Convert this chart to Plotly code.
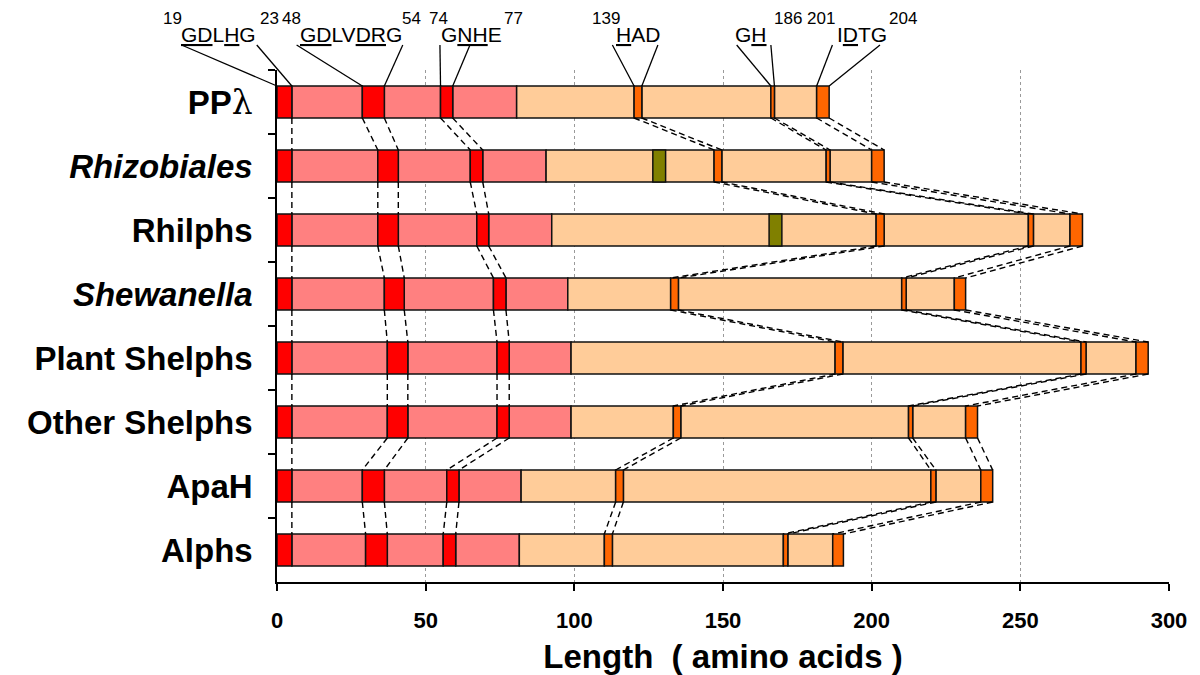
import plotly.graph_objects as go

# ---------------- data ----------------
rows = ["PPλ", "Rhizobiales", "Rhilphs", "Shewanella",
        "Plant Shelphs", "Other Shelphs", "ApaH", "Alphs"]
row_labels = ["<b>PP</b><span style='font-family:DejaVu Serif'>λ</span>",
              "<b><i>Rhizobiales</i></b>", "<b>Rhilphs</b>", "<b><i>Shewanella</i></b>",
              "<b>Plant Shelphs</b>", "<b>Other Shelphs</b>", "<b>ApaH</b>", "<b>Alphs</b>"]

motif1_start = [0, 0, 0, 0, 0, 0, 0, 0]
motif1_end   = [5, 5, 5, 5, 5, 5, 5, 5]
motif2_start = [28.7, 33.9, 33.9, 36.1, 37.1, 37.1, 28.7, 29.8]
motif2_end   = [36.1, 40.8, 40.8, 42.8, 44.0, 44.0, 36.1, 37.1]
motif3_start = [55.0, 65.0, 67.2, 72.8, 74.0, 74.0, 57.1, 55.9]
motif3_end   = [59.1, 69.2, 71.2, 77.0, 78.1, 78.1, 61.2, 60.1]
n_domain_end = [80.6, 90.5, 92.4, 97.8, 98.9, 98.9, 82.1, 81.5]
motif4_start = [120.1, 147.0, 201.5, 132.4, 187.7, 133.3, 113.9, 110.1]
motif4_end   = [122.7, 149.6, 204.2, 135.0, 190.3, 135.8, 116.5, 112.8]
motif5_start = [166.1, 184.7, 252.7, 210.1, 270.4, 212.4, 219.9, 170.3]
motif5_end   = [167.3, 186.0, 254.4, 211.6, 272.1, 213.8, 221.6, 171.8]
motif6_start = [181.5, 200.0, 266.7, 227.8, 288.9, 231.6, 236.7, 186.9]
motif6_end   = [185.7, 204.2, 270.9, 231.6, 293.0, 235.6, 240.7, 190.5]
insert_start = [None, 126.4, 165.5, None, None, None, None, None]
insert_end   = [None, 130.7, 169.8, None, None, None, None, None]

x_ticks = [0, 50, 100, 150, 200, 250, 300]

motif_labels = ["<u>GD</u>L<u>H</u>G", "<u>GD</u>LV<u>DR</u>G", "G<u>NH</u>E",
                "<u>H</u>AD", "G<u>H</u>", "I<u>D</u>TG"]
motif_label_x = [-19.7, 24.9, 65.4, 121.3, 159.4, 196.6]
pos_labels = ["19", "23", "48", "54", "74", "77", "139", "186", "201", "204"]
pos_label_x = [-35.0, -2.6, 5.0, 45.4, 54.2, 79.4, 110.8, 171.7, 182.9, 210.6]
leader_left_x = [-32.1, 6.6, 54.8, 112.8, 154.6, 186.8]
leader_right_x = [-6.8, 42.3, 64.9, 128.1, 166.1, 202.8]

# ---------------- style ----------------
RED, PINK, PEACH, ORANGE, GREEN = "#FF0000", "#FF8080", "#FFCC99", "#FF6600", "#808000"
EDGE = dict(color="#111111", width=1.5)
BAR_W = 0.5
XRANGE = [0, 300]
YRANGE = [len(rows) - 0.5, -0.5]
FONT = "Arial, Liberation Sans, sans-serif"
W, H = 1192, 667
M = dict(l=269, r=31, t=62, b=93)

fig = go.Figure()

def add_segments(starts, ends, color):
    ys, bases, widths = [], [], []
    for i, (s, e) in enumerate(zip(starts, ends)):
        if s is None or e is None:
            continue
        ys.append(row_labels[i]); bases.append(s); widths.append(e - s)
    fig.add_trace(go.Bar(orientation="h", y=ys, x=widths, base=bases, width=BAR_W,
                         marker=dict(color=color, line=EDGE),
                         showlegend=False, hoverinfo="skip"))

add_segments(motif1_end, motif2_start, PINK)
add_segments(motif2_end, motif3_start, PINK)
add_segments(motif3_end, n_domain_end, PINK)
add_segments(n_domain_end, motif4_start, PEACH)
add_segments(motif4_end, motif5_start, PEACH)
add_segments(motif5_end, motif6_start, PEACH)
add_segments(motif1_start, motif1_end, RED)
add_segments(motif2_start, motif2_end, RED)
add_segments(motif3_start, motif3_end, RED)
add_segments(motif4_start, motif4_end, ORANGE)
add_segments(motif5_start, motif5_end, ORANGE)
add_segments(motif6_start, motif6_end, ORANGE)
add_segments(insert_start, insert_end, GREEN)

# dashed connectors between consecutive rows
boundaries = [motif1_end, motif2_start, motif2_end, motif3_start, motif3_end,
              motif4_start, motif4_end, motif5_start, motif5_end, motif6_start, motif6_end]
for b in boundaries:
    for i in range(len(rows) - 1):
        fig.add_shape(type="line", xref="x", yref="y",
                      x0=b[i], y0=i + BAR_W / 2, x1=b[i + 1], y1=i + 1 - BAR_W / 2,
                      line=dict(color="black", width=1.4, dash="6px,4px"), layer="above")

# leader lines from top labels to the first row
def xpaper(v):
    return (v - XRANGE[0]) / (XRANGE[1] - XRANGE[0])

def ypaper(v):
    return (YRANGE[0] - v) / (YRANGE[0] - YRANGE[1])

plot_h = H - M["t"] - M["b"]
label_top_y = 1 + 25 / plot_h
bar_top_y = ypaper(0 - BAR_W / 2)
first_starts = [motif1_start[0], motif2_start[0], motif3_start[0],
                motif4_start[0], motif5_start[0], motif6_start[0]]
first_ends = [motif1_end[0], motif2_end[0], motif3_end[0],
              motif4_end[0], motif5_end[0], motif6_end[0]]
for lx, rx, s, e in zip(leader_left_x, leader_right_x, first_starts, first_ends):
    fig.add_shape(type="line", xref="paper", yref="paper",
                  x0=xpaper(lx), y0=label_top_y, x1=xpaper(s), y1=bar_top_y,
                  line=dict(color="black", width=1.3))
    fig.add_shape(type="line", xref="paper", yref="paper",
                  x0=xpaper(rx), y0=label_top_y, x1=xpaper(e), y1=bar_top_y,
                  line=dict(color="black", width=1.3))

for txt, x in zip(motif_labels, motif_label_x):
    fig.add_annotation(x=xpaper(x), xref="paper", y=1 + 36 / plot_h, yref="paper", text=txt,
                       showarrow=False, xanchor="center", yanchor="middle", borderpad=0,
                       font=dict(family=FONT, size=21, color="black"))
for txt, x in zip(pos_labels, pos_label_x):
    fig.add_annotation(x=xpaper(x), xref="paper", y=1 + 52 / plot_h, yref="paper", text=txt,
                       showarrow=False, xanchor="center", yanchor="middle", borderpad=0,
                       font=dict(family=FONT, size=17, color="black"))

fig.update_layout(
    width=W, height=H,
    margin=M,
    paper_bgcolor="white", plot_bgcolor="white",
    barmode="overlay",
    font=dict(family=FONT, color="black"),
    xaxis=dict(range=XRANGE, tickvals=x_ticks, ticks="outside", ticklen=7,
               tickwidth=1.5, tickcolor="black", automargin=False,
               showline=True, linecolor="black", linewidth=1.5,
               showgrid=True, gridcolor="#9a9a9a", gridwidth=1, griddash="dot",
               zeroline=False, ticklabelstandoff=11,
               tickfont=dict(family=FONT, size=22, weight="bold", color="black"),
               title=dict(text="<b>Length\u00a0 ( amino acids )</b>", standoff=13,
                          font=dict(family=FONT, size=33, color="black"))),
    yaxis=dict(type="category", categoryorder="array", categoryarray=row_labels,
               range=YRANGE, tickson="boundaries", ticks="outside", ticklen=7,
               tickwidth=1.5, tickcolor="black", automargin=False,
               showline=True, linecolor="black", linewidth=1.5,
               showgrid=False, zeroline=False, ticklabelstandoff=16,
               tickfont=dict(family=FONT, size=33, color="black")),
)

fig.write_html("out.html")
